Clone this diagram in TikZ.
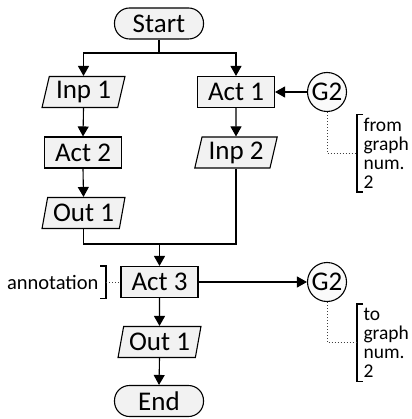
\documentclass[tikz,border=0pt]{standalone}
\usepackage{fontspec}
\setmainfont{Carlito}
\usetikzlibrary{shapes.geometric,arrows.meta}
\begin{document}
\begin{tikzpicture}[x=1pt,y=-1pt,
  line width=1.1pt,
  base/.style={draw, line width=1.1pt, fill=gray!10, font=\fontsize{27}{29}\selectfont, inner sep=0pt},
  actbox/.style={base, rectangle, minimum width=77pt, minimum height=31pt},
  iobox/.style={base, trapezium, trapezium left angle=75, trapezium right angle=105, trapezium stretches=true, minimum width=83pt, minimum height=31pt},
  term/.style={base, rectangle, rounded corners=15pt, minimum width=89pt, minimum height=31pt},
  conn/.style={base, circle, fill=gray!4, minimum size=39pt},
  arr/.style={-{Triangle[length=10pt,width=11pt]}},
  note/.style={font=\fontsize{20.5}{20}\selectfont, inner ysep=0pt},
  bnote/.style={font=\fontsize{19.5}{19}\selectfont, align=left, anchor=west, inner xsep=6pt, inner ysep=0pt, minimum height=76pt},
  dots/.style={dotted, line width=1pt, black!75}
]
\useasboundingbox (0,0) rectangle (411,419);

\node[term]  (start) at (159,23.5) {Start};
\node[iobox] (inp1)  at (83.5,92)  {Inp 1};
\node[actbox](act1)  at (236,92)   {Act 1};
\node[conn]  (g2a)   at (327,92)   {G2};
\node[actbox](act2)  at (83,152.5) {Act 2};
\node[iobox] (inp2)  at (236,152.5){Inp 2};
\node[iobox] (out1a) at (83.5,213) {Out 1};
\node[actbox](act3)  at (159.5,282){Act 3};
\node[conn]  (g2b)   at (327,282)  {G2};
\node[iobox] (out1b) at (159.5,342){Out 1};
\node[term]  (end)   at (159,401)  {End};

\coordinate (fork) at (159,53);
\coordinate (join) at (159.5,244);

\draw (start.south) -- (fork);
\draw[arr] (fork) -| (inp1.north);
\draw[arr] (fork) -| (act1.north);
\draw[arr] (g2a.west) -- (act1.east);
\draw[arr] (inp1.south) -- (act2.north);
\draw[arr] (act1.south) -- (inp2.north);
\draw[arr] (act2.south) -- (out1a.north);
\draw (out1a.south) |- (join);
\draw (inp2.south) |- (join);
\draw[arr] (join) -- (act3.north);
\draw[arr] (act3.east) -- (g2b.west);
\draw[arr] (act3.south) -- (out1b.north);
\draw[arr] (out1b.south) -- (end.north);

% annotation
\node[note, anchor=east, minimum height=31pt, inner xsep=7pt] (annot) at (106,282) {annotation};
\draw ([xshift=-6pt]annot.north east) -- (annot.north east) -- (annot.south east) -- ([xshift=-6pt]annot.south east);
\draw[dots] (annot.east) -- (act3.west);

% from graph
\node[bnote] (fromtxt) at (357,153.5) {from\\graph\\num.\\2};
\draw ([xshift=6pt]fromtxt.north west) -- (fromtxt.north west) -- (fromtxt.south west) -- ([xshift=6pt]fromtxt.south west);
\draw[dots] (g2a.south) |- (fromtxt.west);

% to graph
\node[bnote] (totxt) at (357,342.5) {to\\graph\\num.\\2};
\draw ([xshift=6pt]totxt.north west) -- (totxt.north west) -- (totxt.south west) -- ([xshift=6pt]totxt.south west);
\draw[dots] (g2b.south) |- (totxt.west);
\end{tikzpicture}
\end{document}
